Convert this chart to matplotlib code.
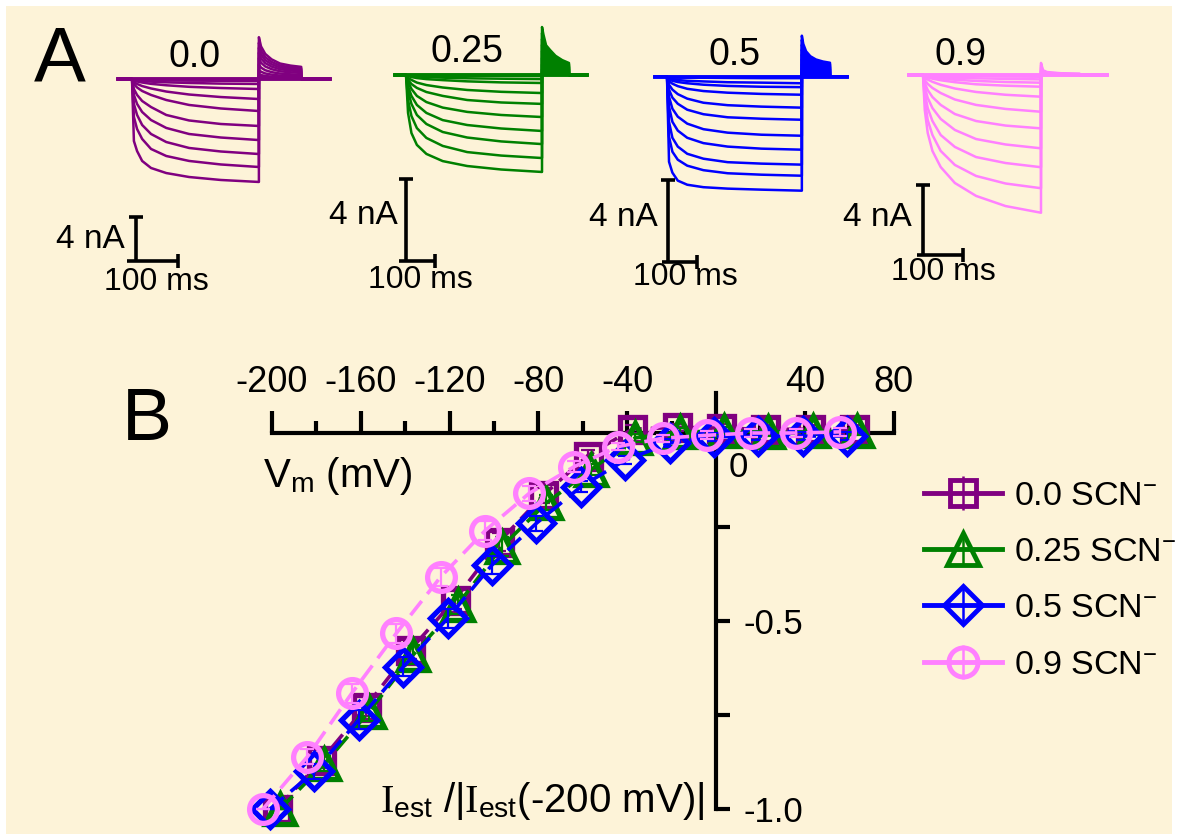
import matplotlib
matplotlib.use("Agg")
import matplotlib.pyplot as plt
import matplotlib.transforms as mtransforms
from matplotlib.patches import Rectangle
import numpy as np

plt.rcParams['font.family'] = ['Liberation Sans', 'DejaVu Sans']
plt.rcParams['mathtext.fontset'] = 'custom'
plt.rcParams['mathtext.rm'] = 'Liberation Sans'
plt.rcParams['mathtext.it'] = 'Liberation Serif'
plt.rcParams['mathtext.bf'] = 'Liberation Sans:bold'
plt.rcParams['axes.unicode_minus'] = False

# ---------------- Panel A data (inward current magnitudes, nA) ----------------
step_frac = [0, 0.015, 0.04, 0.08, 0.15, 0.27, 0.45, 0.7, 1.0]
tail_frac = [0, 0.05, 0.15, 0.3, 0.5, 0.75, 1.0]

trace_labels = ['0.0', '0.25', '0.5', '0.9']
step_ms = [300, 469, 465, 295]
tail_ms = [100, 93, 97, 97]
pre_ms = [33, 38, 41, 35]
total_ms = [468, 624, 621, 460]
bar_nA = 4
bar_ms = 100

inward_00 = [
    [0, .05, .06, .08, .10, .13, .15, .16, .18],
    [0, .09, .14, .18, .24, .30, .36, .42, .45],
    [0, .14, .23, .32, .44, .57, .71, .82, .91],
    [0, .27, .45, .64, .86, 1.14, 1.41, 1.64, 1.82],
    [0, .45, .77, 1.09, 1.45, 1.91, 2.36, 2.68, 2.91],
    [0, .91, 1.45, 2.0, 2.55, 3.27, 3.77, 4.09, 4.27],
    [0, 1.45, 2.27, 3.0, 3.73, 4.45, 5.0, 5.32, 5.55],
    [0, 2.27, 3.27, 4.18, 5.0, 5.73, 6.27, 6.59, 6.82],
    [0, 3.45, 4.55, 5.45, 6.36, 7.0, 7.45, 7.77, 8.0],
    [0, 5.64, 6.55, 7.45, 8.09, 8.55, 8.91, 9.18, 9.36],
]
inward_025 = [
    [0, .01, .01, .02, .02, .03, .03, .04, .05],
    [0, .03, .05, .07, .10, .13, .16, .18, .20],
    [0, .06, .10, .15, .20, .25, .31, .36, .39],
    [0, .15, .24, .37, .49, .61, .73, .82, .88],
    [0, .24, .44, .63, .83, 1.02, 1.22, 1.34, 1.41],
    [0, .34, .68, 1.02, 1.32, 1.59, 1.80, 1.95, 2.05],
    [0, .54, 1.02, 1.46, 1.85, 2.20, 2.44, 2.61, 2.73],
    [0, .78, 1.41, 1.95, 2.39, 2.78, 3.05, 3.24, 3.37],
    [0, 1.22, 2.0, 2.59, 3.07, 3.46, 3.76, 3.93, 4.05],
    [0, 1.85, 2.83, 3.41, 3.85, 4.20, 4.44, 4.61, 4.73],
]
inward_05 = [
    [0, .01, .02, .03, .04, .05, .06, .07, .07],
    [0, .07, .12, .16, .20, .23, .27, .29, .32],
    [0, .12, .20, .26, .32, .39, .45, .49, .51],
    [0, .22, .34, .46, .59, .70, .78, .84, .88],
    [0, .39, .63, .85, 1.07, 1.27, 1.39, 1.46, 1.51],
    [0, .63, 1.02, 1.32, 1.61, 1.83, 1.98, 2.05, 2.10],
    [0, .98, 1.56, 1.95, 2.29, 2.56, 2.73, 2.83, 2.88],
    [0, 1.46, 2.20, 2.63, 2.98, 3.24, 3.41, 3.51, 3.56],
    [0, 2.20, 2.98, 3.41, 3.76, 4.0, 4.17, 4.24, 4.29],
    [0, 2.93, 3.66, 4.05, 4.34, 4.56, 4.71, 4.78, 4.83],
    [0, 4.15, 4.68, 5.07, 5.27, 5.39, 5.46, 5.51, 5.56],
]
inward_09 = [
    [0, .02, .03, .04, .05, .06, .07, .09, .10],
    [0, .03, .06, .09, .12, .16, .19, .22, .25],
    [0, .06, .10, .14, .20, .27, .34, .40, .44],
    [0, .09, .14, .21, .30, .41, .53, .61, .67],
    [0, .14, .26, .39, .56, .77, .97, 1.13, 1.24],
    [0, .29, .51, .74, 1.03, 1.40, 1.71, 1.94, 2.10],
    [0, .46, .86, 1.26, 1.71, 2.23, 2.63, 2.89, 3.05],
    [0, .69, 1.31, 1.89, 2.51, 3.14, 3.66, 3.97, 4.19],
    [0, 1.03, 1.89, 2.63, 3.43, 4.11, 4.69, 5.03, 5.27],
    [0, 1.43, 2.57, 3.43, 4.34, 5.14, 5.77, 6.20, 6.47],
    [0, 2.0, 3.31, 4.34, 5.26, 6.17, 6.91, 7.49, 7.87],
]
tail_peak_00 = [0.08, 0.23, 0.46, 0.84, 1.33, 1.9, 2.4, 2.85, 3.3, 3.8]
tail_peak_025 = [0.05, 0.14, 0.28, 0.51, 0.82, 1.17, 1.47, 1.75, 2.04, 2.34]
tail_peak_05 = [0.04, 0.12, 0.24, 0.4, 0.6, 0.84, 1.08, 1.32, 1.56, 1.8, 2.0]
tail_peak_09 = [0.01, 0.03, 0.05, 0.08, 0.13, 0.2, 0.28, 0.37, 0.47, 0.58, 0.69]
tail_shape_00 = [1, .78, .6, .47, .37, .32, .29]
tail_shape_025 = [1, .85, .62, .52, .4, .31, .25]
tail_shape_05 = [1, .8, .62, .5, .42, .37, .34]
tail_shape_09 = [1, .4, .25, .2, .15, .12, .1]

# ---------------- Panel B data ----------------
Vm = [-200, -180, -160, -140, -120, -100, -80, -60, -40, -20, 0, 20, 40, 60]
I_00 = [-1.0, -0.87, -0.728, -0.577, -0.444, -0.29, -0.165, -0.06, 0.01, 0.015, 0.013, 0.01, 0.01, 0.01]
I_025 = [-1.0, -0.88, -0.742, -0.59, -0.457, -0.302, -0.186, -0.098, -0.013, 0.003, 0.005, 0.003, 0.004, 0.004]
I_05 = [-1.0, -0.90, -0.763, -0.622, -0.493, -0.351, -0.24, -0.143, -0.072, -0.027, -0.01, -0.008, -0.008, -0.008]
I_09 = [-1.0, -0.861, -0.692, -0.533, -0.383, -0.26, -0.16, -0.09, -0.036, -0.014, -0.006, 0.0, 0.0, 0.003]
err_00 = [0.0, 0.02, 0.025, 0.025, 0.025, 0.025, 0.02, 0.015, 0.01, 0.01, 0.01, 0.01, 0.01, 0.01]
err_025 = [0.0, 0.02, 0.025, 0.025, 0.025, 0.025, 0.02, 0.015, 0.01, 0.01, 0.01, 0.01, 0.01, 0.01]
err_05 = [0.0, 0.02, 0.025, 0.025, 0.025, 0.025, 0.02, 0.015, 0.01, 0.01, 0.01, 0.01, 0.01, 0.01]
err_09 = [0.0, 0.02, 0.025, 0.025, 0.025, 0.025, 0.02, 0.015, 0.01, 0.01, 0.01, 0.01, 0.01, 0.01]
series_labels = ['0.0 SCN$^{-}$', '0.25 SCN$^{-}$', '0.5 SCN$^{-}$', '0.9 SCN$^{-}$']
x_ticks = [-200, -160, -120, -80, -40, 40, 80]
x_minor = [-180, -140, -100, -60, -20, 20, 60]
y_ticks = [-1.0, -0.5]
y_ticklabels = ['-1.0', '-0.5']
y_minor = [-0.75, -0.25]

colors = ['#800080', '#008000', '#0000FF', '#FF80FF']
cream = '#FDF3D8'

W, H = 1178, 834
fig = plt.figure(figsize=(W / 100, H / 100), dpi=100)
fig.patch.set_facecolor('white')
fig.patches.append(Rectangle((6 / W, 0), (1172 - 6) / W, (834 - 6) / H,
                             transform=fig.transFigure, facecolor=cream,
                             edgecolor='none', zorder=-10))


def ftext(x, y, s, **kw):
    return fig.text(x / W, 1 - y / H, s, **kw)


def panel_axes(x0, y0, kx, ky, L, T, R, B):
    ax = fig.add_axes([L / W, 1 - B / H, (R - L) / W, (B - T) / H])
    ax.set_xlim((L - x0) / kx, (R - x0) / kx)
    ax.set_ylim((y0 - B) / ky, (y0 - T) / ky)
    ax.axis('off')
    ax.patch.set_alpha(0)
    return ax


# pixel mapping of each trace panel: step-start x, baseline y, px/ms, px/nA
mapping = [(132, 79, 0.423, 11.0), (406, 75, 0.29, 20.5),
           (667, 76.7, 0.29, 20.5), (923, 75, 0.40, 17.5)]
bars = [(9.5, -16.55, -11.8), (0, -9.07, -24), (3.4, -9.04, -17), (0, -10.29, -15)]
inward_all = [inward_00, inward_025, inward_05, inward_09]
tail_peaks = [tail_peak_00, tail_peak_025, tail_peak_05, tail_peak_09]
tail_shapes = [tail_shape_00, tail_shape_025, tail_shape_05, tail_shape_09]
label_pos = [(195, 57), (467, 52), (735, 55), (960, 55)]
nA_pos = [(125, 240), (398, 216), (658, 218), (912, 217)]
ms_pos = [(156, 282), (420, 280), (685, 277), (943, 272)]

for p in range(4):
    x0, y0, kx, ky = mapping[p]
    ax = panel_axes(x0, y0, kx, ky, x0 - 60, 15, x0 + 230, 310)
    c = colors[p]
    st, tl, pr, tot = step_ms[p], tail_ms[p], pre_ms[p], total_ms[p]
    t_step = [f * st for f in step_frac]
    t_tail = [st + f * tl for f in tail_frac]
    for row, pk in zip(inward_all[p], tail_peaks[p]):
        tt = [-pr, 0] + t_step + t_tail + [st + tl, tot]
        ii = [0, 0] + [-v for v in row] + [pk * s for s in tail_shapes[p]] + [0, 0]
        ax.plot(tt, ii, color=c, lw=1.8, solid_joinstyle='round')
    if p in (1, 2):
        top = [tail_peaks[p][-1] * s for s in tail_shapes[p]]
        ax.fill_between(t_tail, 0, top, color=c, lw=0)
    ax.plot([-pr, tot], [0, 0], color=c, lw=2.8)
    # scale bars
    tv, ib, tleft = bars[p]
    ax.plot([tv, tv], [ib, ib + bar_nA], color='black', lw=2.6, solid_capstyle='butt')
    ax.plot([tleft, tv + bar_ms], [ib, ib], color='black', lw=2.6, solid_capstyle='butt')
    ax.plot([tv], [ib + bar_nA], marker='_', ms=10, mew=2.6, color='black')
    ax.plot([tv + bar_ms], [ib], marker='|', ms=10, mew=2.6, color='black')
    ftext(*label_pos[p], trace_labels[p], fontsize=27, ha='center', va='center')
    ftext(*nA_pos[p], '4 nA', fontsize=24, ha='right', va='center')
    ftext(*ms_pos[p], '100 ms', fontsize=23, ha='center', va='center')

ftext(60, 61, 'A', fontsize=56, ha='center', va='center')
ftext(147, 421, 'B', fontsize=54, ha='center', va='center')

# ---------------- Panel B ----------------
kxB, kyB, x0B, y0B = 2.22, 376.0, 716.0, 433.0
xl, xr = -210, 90
yb, yt = -1.06, 0.106
L = x0B + xl * kxB
R = x0B + xr * kxB
Bp = y0B - yb * kyB
Tp = y0B - yt * kyB
axB = fig.add_axes([L / W, 1 - Bp / H, (R - L) / W, (Bp - Tp) / H])
axB.set_xlim(xl, xr)
axB.set_ylim(yb, yt)
axB.patch.set_alpha(0)
for s in ['left', 'bottom']:
    axB.spines[s].set_visible(False)
axB.spines['top'].set_position(('data', 0))
axB.spines['right'].set_position(('data', 0))
axB.spines['top'].set_bounds(-200, 80)
axB.spines['right'].set_bounds(-1.0, yt)
for s in ['top', 'right']:
    axB.spines[s].set_linewidth(3)
axB.xaxis.set_ticks_position('top')
axB.yaxis.set_ticks_position('right')
axB.set_xticks(x_ticks)
axB.set_xticklabels([str(v) for v in x_ticks])
axB.set_xticks(x_minor, minor=True)
axB.set_yticks(y_ticks)
axB.set_yticklabels(y_ticklabels)
axB.set_yticks(y_minor, minor=True)
axB.tick_params(axis='x', which='major', direction='out', length=16, width=3,
                labelsize=26, pad=8)
axB.tick_params(axis='x', which='minor', direction='out', length=9, width=3)
axB.tick_params(axis='y', which='major', direction='out', length=10, width=3,
                labelsize=25, pad=10)
axB.tick_params(axis='y', which='minor', direction='out', length=10, width=3)

series = [(I_00, err_00, 's', 18, 5), (I_025, err_025, '^', 22, 8),
          (I_05, err_05, 'D', 18.5, -2), (I_09, err_09, 'o', 20, -9)]
for k, (yy, ee, mk, ms, dx) in enumerate(series):
    off = axB.transData + mtransforms.ScaledTranslation(dx / 100, 0, fig.dpi_scale_trans)
    z = 3 + k
    eb = axB.errorbar(Vm, yy, yerr=ee, fmt='none', ecolor=colors[k], elinewidth=1.6,
                      capsize=5, capthick=1.6, zorder=z)
    for art in list(eb.lines[1]) + list(eb.lines[2]):
        art.set_clip_on(False)
        art.set_transform(off)
    axB.plot(Vm, yy, color=colors[k], lw=2.6, ls=(0, (5, 2.5)), marker=mk, ms=ms,
             mfc='none', mec=colors[k], mew=3.8, transform=off, clip_on=False, zorder=z)

# legend proxies
handles = []
for k, (yy, ee, mk, ms, dx) in enumerate(series):
    h = axB.errorbar([np.nan], [np.nan], yerr=[0.1], color=colors[k], ls='-', lw=3.5,
                     marker=mk, ms=ms * 1.05, mfc='none', mec=colors[k], mew=3.5,
                     elinewidth=1.8, capsize=0)
    handles.append(h)
fig.legend(handles, series_labels, loc='upper left',
           bbox_to_anchor=(924 / W, 1 - 481 / H), frameon=False, fontsize=24.5,
           handlelength=2.3, handletextpad=0.35, labelspacing=0.74, borderpad=0,
           borderaxespad=0)

ftext(738, 468, '0', fontsize=25, ha='center', va='center')
ftext(263, 487, 'V$_{\\mathrm{m}}$ (mV)', fontsize=29, ha='left', va='baseline')
ftext(380, 812, '$\\mathit{I}_{\\mathrm{est}}$ /|$\\mathit{I}_{\\mathrm{est}}$(-200 mV)|',
      fontsize=29, ha='left', va='baseline')

fig.savefig('out.png', dpi=100, facecolor=fig.get_facecolor())
